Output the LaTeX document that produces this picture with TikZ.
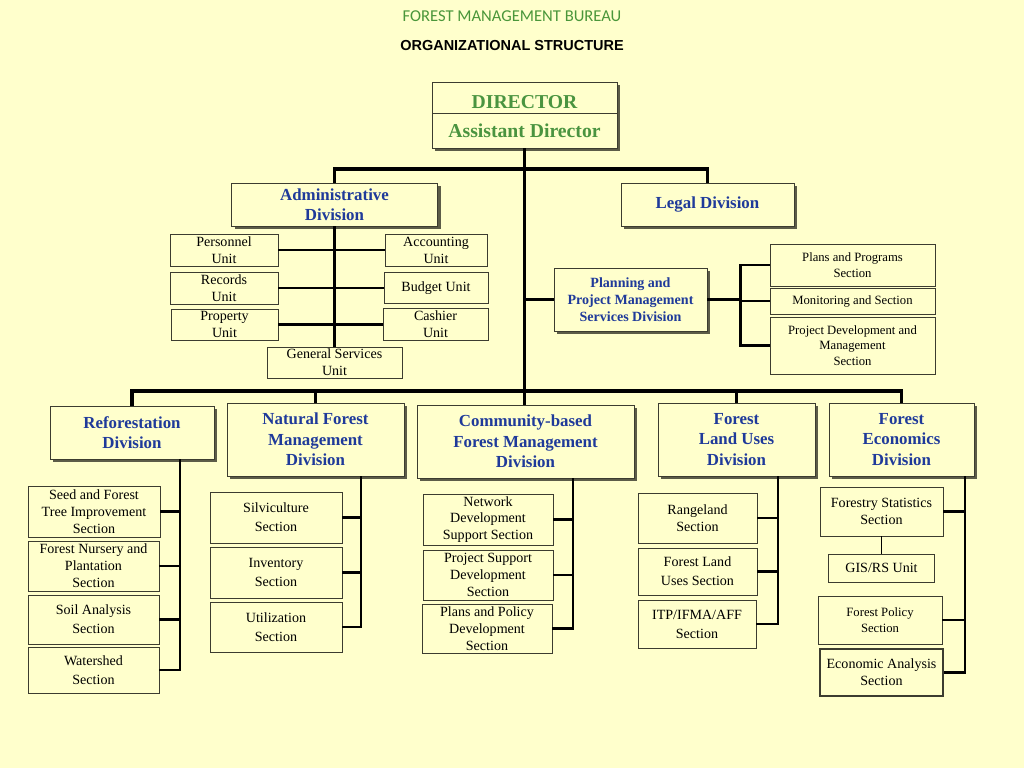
\documentclass[tikz,border=0pt]{standalone}
\usepackage{fontspec}
\setmainfont{Liberation Serif}
\newfontfamily\titlefont{Carlito}
\newfontfamily\headfont{Liberation Sans}
\usepackage{tikz}
\usetikzlibrary{positioning,shadows}
\definecolor{bgpaper}{HTML}{FFFFCC}
\definecolor{shadowgray}{HTML}{5C5C48}
\definecolor{divblue}{HTML}{1F3A9A}
\definecolor{dirgreen}{HTML}{4A9440}
\definecolor{titlegreen}{HTML}{4A963A}
\definecolor{boxline}{HTML}{3C3C30}

\begin{document}
\begin{tikzpicture}[x=0.025cm, y=-0.025cm,
  sz/.style 2 args={minimum width=#1*0.025cm, minimum height=#2*0.025cm},
  basebox/.style={draw=boxline, line width=0.6pt, fill=bgpaper, inner sep=0pt, align=center},
  shadowbox/.style={basebox, drop shadow={shadow xshift=0.08cm, shadow yshift=-0.08cm, fill=shadowgray, opacity=1}},
  headbox/.style={shadowbox, font=\bfseries\fontsize{14}{17}\selectfont, text=dirgreen},
  divbox/.style={shadowbox, font=\bfseries\fontsize{12}{14.6}\selectfont, text=divblue},
  planbox/.style={shadowbox, font=\bfseries\fontsize{10}{12}\selectfont, text=divblue},
  secbox/.style={basebox, font=\fontsize{10}{12}\selectfont},
  loosebox/.style={basebox, font=\fontsize{10}{13.5}\selectfont},
  smallbox/.style={basebox, font=\fontsize{9}{11}\selectfont},
  mainline/.style={line width=2.8pt},
  divline/.style={line width=2.1pt},
  thinline/.style={line width=0.7pt}]

  \fill[bgpaper] (0,0) rectangle (1024,768);

  \node[font=\titlefont\fontsize{11.8}{14}\selectfont, text=titlegreen] (bureau) at (512,16) {FOREST MANAGEMENT BUREAU};
  \node[font=\headfont\bfseries\fontsize{10.3}{12}\selectfont] (orgtitle) at (512,46) {ORGANIZATIONAL STRUCTURE};

  \node[headbox, sz={185}{31}, text height=15pt, text depth=0pt] (dir) at (524.5,97.5) {DIRECTOR};
  \node[headbox, sz={185}{35}] (asst) at (524.5,130.5) {Assistant Director};

  \node[divbox, sz={206}{43}] (admin) at (334.5,204.5) {Administrative\\Division};
  \node[divbox, sz={173}{43}] (legal) at (707.5,204.5) {Legal Division};

  \node[secbox, sz={108}{32}] (pers) at (224,250) {Personnel\\Unit};
  \node[secbox, sz={108}{32}] (rec) at (224,288) {Records\\Unit};
  \node[secbox, sz={107}{31}] (prop) at (224.5,324.5) {Property\\Unit};
  \node[secbox, sz={102}{32}] (acct) at (436,250) {Accounting\\Unit};
  \node[secbox, sz={104}{31}] (budg) at (436,288) {Budget Unit};
  \node[secbox, sz={105}{32}] (cash) at (435.5,324.5) {Cashier\\Unit};
  \node[secbox, sz={135}{31}] (gensrv) at (334.5,362.5) {General Services\\Unit};

  \node[planbox, sz={153}{63}] (plan) at (630.5,299.5) {Planning and\\Project Management\\Services Division};
  \node[smallbox, sz={165}{42}] (plans) at (852.5,265) {Plans and Programs\\Section};
  \node[smallbox, sz={165}{26}] (mon) at (852.5,301) {Monitoring and Section};
  \node[smallbox, sz={165}{57}] (pdev) at (852.5,345.5) {Project Development and\\Management\\Section};

  \node[divbox, sz={164}{53}] (refo) at (132,432.5) {Reforestation\\Division};
  \node[divbox, sz={177}{73}] (natfor) at (315.5,439.5) {Natural Forest\\Management\\Division};
  \node[divbox, sz={217}{73}] (comm) at (525.5,441.5) {Community-based\\Forest Management\\Division};
  \node[divbox, sz={157}{73}] (landuse) at (736.5,439.5) {Forest\\Land Uses\\Division};
  \node[divbox, sz={145}{73}] (econ) at (901.5,439.5) {Forest\\Economics\\Division};

  \node[secbox, sz={132}{51}] (seed) at (94,511.5) {Seed and Forest\\Tree Improvement\\Section};
  \node[secbox, sz={131}{50}] (nurs) at (93.5,566) {Forest Nursery and\\Plantation\\Section};
  \node[loosebox, sz={131}{49}] (soil) at (93.5,619.5) {Soil Analysis\\Section};
  \node[loosebox, sz={131}{46}] (water) at (93.5,670) {Watershed\\Section};

  \node[loosebox, sz={132}{51}] (silv) at (276,517.5) {Silviculture\\Section};
  \node[loosebox, sz={132}{51}] (inv) at (276,572.5) {Inventory\\Section};
  \node[loosebox, sz={132}{50}] (util) at (276,627) {Utilization\\Section};

  \node[secbox, sz={130}{51}] (netw) at (488,519.5) {Network\\Development\\Support Section};
  \node[secbox, sz={130}{50}] (psupp) at (488,575) {Project Support\\Development\\Section};
  \node[secbox, sz={130}{49}] (ppol) at (487,628.5) {Plans and Policy\\Development\\Section};

  \node[secbox, sz={119}{50}] (range) at (697.5,518) {Rangeland\\Section};
  \node[loosebox, sz={119}{47}] (flus) at (697.5,571.5) {Forest Land\\Uses Section};
  \node[loosebox, sz={118}{48}] (itp) at (697,624) {ITP/IFMA/AFF\\Section};

  \node[secbox, sz={123}{49}] (fstat) at (881.5,511.5) {Forestry Statistics\\Section};
  \node[secbox, sz={106}{28}] (gis) at (881.5,568) {GIS/RS Unit};
  \node[smallbox, sz={124}{48}] (fpol) at (880,620) {Forest Policy\\Section};
  \node[secbox, sz={123}{47}, line width=1.1pt] (econan) at (881.5,672.5) {Economic Analysis\\Section};

  \draw[mainline] (asst.south) -- (asst.south |- comm.north);
  \draw[mainline] (admin.north) -- ++(0,-14) -| (legal.north);
  \draw[mainline] (plan.west) -- (plan.west -| asst.south);
  \draw[mainline] (refo.north) -- ++(0,-15) -| (econ.north);
  \draw[mainline] (natfor.north) -- ++(0,-12);
  \draw[mainline] (landuse.north) -- ++(0,-12);

  \draw[divline] (admin.south) -- (gensrv.north);
  \draw[divline] (pers.east) -- (acct.west);
  \draw[divline] (rec.east) -- (budg.west);
  \draw[divline] (prop.east) -- (cash.west);

  \draw[divline] (plan.east) -- ++(33,0) coordinate (pbr);
  \draw[divline] (plans.west) -| (pbr) |- (pdev.west);
  \draw[divline] (mon.west) -- (mon.west -| pbr);

  \coordinate (rv) at (refo.south -| 180,0);
  \draw[divline] (rv) |- (water.east);
  \draw[divline] (seed.east) -- (seed.east -| rv);
  \draw[divline] (nurs.east) -- (nurs.east -| rv);
  \draw[divline] (soil.east) -- (soil.east -| rv);

  \coordinate (nv) at (natfor.south -| 361,0);
  \draw[divline] (nv) |- (util.east);
  \draw[divline] (silv.east) -- (silv.east -| nv);
  \draw[divline] (inv.east) -- (inv.east -| nv);

  \coordinate (cv) at (comm.south -| 573,0);
  \draw[divline] (cv) |- (ppol.east);
  \draw[divline] (netw.east) -- (netw.east -| cv);
  \draw[divline] (psupp.east) -- (psupp.east -| cv);

  \coordinate (lv) at (landuse.south -| 778,0);
  \draw[divline] (lv) |- (itp.east);
  \draw[divline] (range.east) -- (range.east -| lv);
  \draw[divline] (flus.east) -- (flus.east -| lv);

  \coordinate (ev) at (econ.south -| 965,0);
  \draw[divline] (ev) |- (econan.east);
  \draw[divline] (fstat.east) -- (fstat.east -| ev);
  \draw[divline] (fpol.east) -- (fpol.east -| ev);
  \draw[thinline] (fstat.south) -- (gis.north);

\end{tikzpicture}
\end{document}
